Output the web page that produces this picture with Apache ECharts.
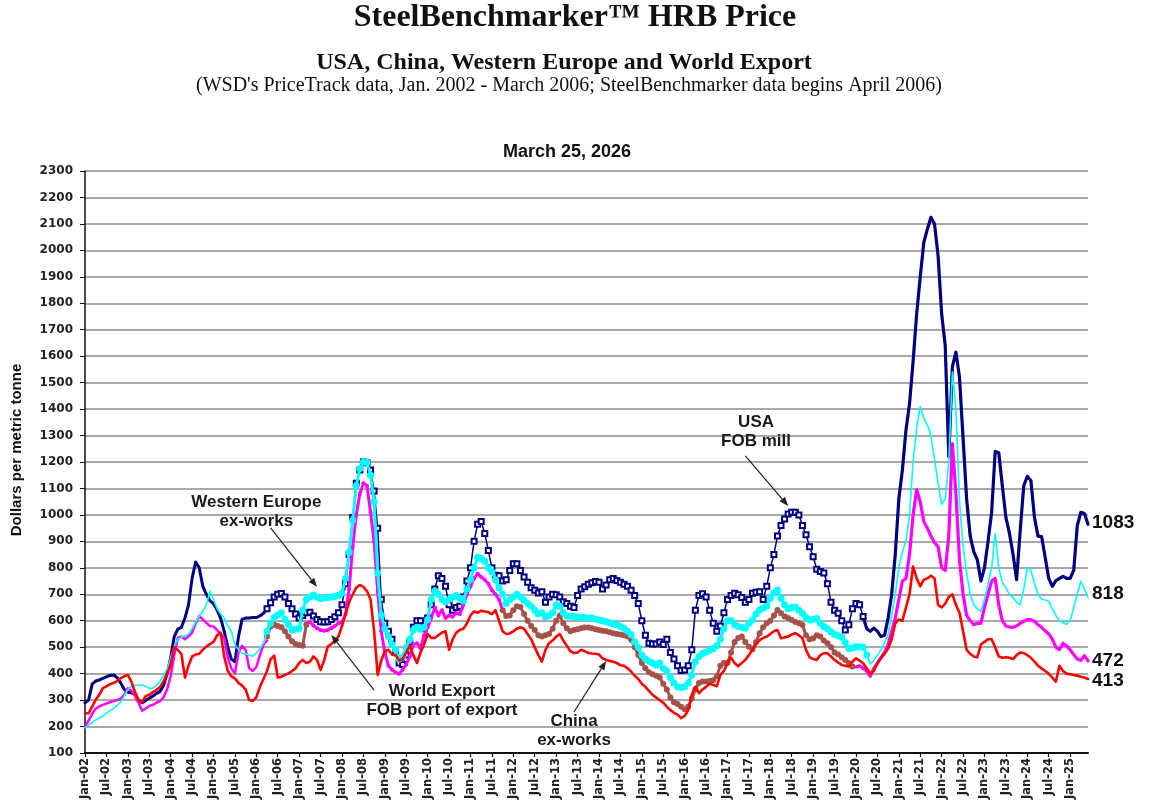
<!DOCTYPE html>
<html><head><meta charset="utf-8">
<script src="https://cdn.jsdelivr.net/npm/echarts@6/dist/echarts.min.js"></script>
<style>html,body{margin:0;padding:0;background:#fff}#chart{width:1155px;height:807px}</style>
</head><body><div id="chart"></div>
<script>
// ---------------- DATA ----------------
const monthNames = ['Jan','Feb','Mar','Apr','May','Jun','Jul','Aug','Sep','Oct','Nov','Dec'];
const START_YEAR = 2002;
const N_MONTHS = 282; // Jan-02 ... Jun-25 (monthly index 0..281)
const yTicks = {min: 100, max: 2300, step: 100};

// USA FOB mill (navy)
const usaEarlyStart = 0;
const usaEarly = [290,300,360,372,376,382,388,393,395,385,365,340,
  330,328,320,300,290,298,307,315,325,332,355,400,
  460,540,568,575,610,660,760,822,800,730,700,675,
  665,640,610,560,500,455,445,540,605,610,610,612,
  612,618,628,645];
const usaMidStart = 51;
const usaMid = [645,668,690,700,703,690,665,645,625,610,620,630,
  632,618,605,596,595,596,605,615,630,660,740,850,
  990,1120,1170,1200,1197,1170,1090,950,680,590,560,530,
  480,440,435,470,520,575,600,600,570,610,660,720,
  770,760,730,660,640,650,655,690,750,800,900,965,
  975,930,865,800,772,770,750,755,790,815,815,790,
  765,745,725,715,705,710,670,690,700,698,690,672,
  665,655,650,695,720,728,738,744,748,745,720,735,
  755,760,752,745,738,730,715,695,665,600,545,515,
  512,512,520,510,530,480,455,430,412,414,430,490,
  640,695,702,690,640,590,560,580,630,680,695,704,
  698,688,670,680,704,708,710,680,730,800,850,920,
  960,985,1003,1010,1010,1000,960,925,880,842,795,786,
  780,740,670,640,628,600,565,585,645,665,660,616];
const usaLateStart = 218;
const usaLate = [616,570,560,572,560,540,545,610,700,850,1060,1170,
  1320,1420,1580,1760,1900,2030,2080,2125,2100,1980,1760,1640,
  1220,1560,1615,1520,1290,1060,920,860,830,750,800,900,
  1010,1240,1235,1110,990,930,850,755,940,1110,1146,1130,
  990,920,918,840,760,730,752,760,768,760,760,790,
  960,1010,1005,965];

// Western Europe ex-works (cyan)
const weEarlyStart = 0;
const weEarly = [195,205,215,225,232,240,250,260,268,280,292,315,
  340,352,355,356,357,352,345,345,355,370,395,415,
  460,505,530,538,542,548,570,595,616,635,660,712,
  680,645,625,610,580,560,510,490,477,474,470,466,
  478,495,515,560];
const weMidStart = 51;
const weMid = [560,590,612,622,630,605,585,565,568,572,640,680,
  690,697,690,684,686,688,690,692,695,705,760,860,
  980,1110,1175,1200,1198,1150,1050,780,620,570,540,510,
  490,455,462,500,530,565,575,568,575,605,680,712,
  700,680,672,680,690,695,685,675,720,755,800,840,
  835,825,800,785,755,725,700,665,680,690,700,690,
  677,665,655,640,626,630,615,620,630,660,655,630,
  618,617,616,615,612,612,610,610,606,603,600,596,
  592,588,585,578,572,560,548,520,500,470,455,447,
  440,433,440,420,410,385,365,350,348,350,365,395,
  445,465,476,482,488,494,505,530,570,600,600,585,
  578,575,572,590,603,625,641,648,655,685,705,716,
  685,660,645,650,652,640,628,612,603,606,608,590,
  578,570,558,548,543,538,518,495,497,502,502,500,
  470];
const weLateStart = 219;
const weLate = [470,436,450,470,490,515,550,620,700,800,860,900,
  1000,1200,1330,1410,1365,1340,1300,1210,1120,1040,1060,1200,
  1540,1400,1050,880,780,700,660,645,635,680,740,800,
  930,800,745,725,700,688,670,660,720,800,790,742,
  700,681,678,674,645,620,600,592,587,600,650,700,
  749,720,688];

// World Export FOB port of export (magenta line / brown markers)
const wxEarlyStart = 0;
const wxEarly = [200,222,248,268,276,282,287,292,296,300,305,320,
  345,335,315,290,260,268,278,282,290,296,310,340,
  390,470,535,540,530,540,555,590,618,605,592,580,
  578,565,550,535,460,420,400,480,505,490,420,410,
  425,470,510,525];
const wxBrownAStart = 51;
const wxBrownA = [540,578,585,580,575,560,540,522,512,508,505,585];
const wxMidStart = 62;
const wxMid = [590,595,582,572,565,562,565,572,580,590,595,625,
  720,880,1000,1080,1120,1110,1010,900,710,560,480,430,
  415,405,400,415,435,465,510,515,495,545,575,610,
  650,620,640,610,620,615,630,625,660,700,730,760,
  778,765,755,740,715,700,680,640];
const wxBrownBStart = 117;
const wxBrownB = [640,618,620,640,655,652,625,600,580,565,545,540,
  545,550,570,600,620,590,572,560,565,568,572,574,
  574,572,568,565,562,560,556,553,550,548,545,540,
  528,500,470,440,420,405,398,392,385,362,340,310,
  292,285,275,265,275,305,340,365,370,370,372,375,
  390,430,440,440,480,520,535,540,520,502,492,520,
  553,575,590,600,620,641,628,616,610,603,595,590,
  584,545,530,534,545,540,525,515,500,480,472,462,
  452,440,427];
const wxLateStart = 215;
const wxLate = [427,425,430,420,410,390,420,440,460,480,510,560,
  610,680,750,760,850,1000,1095,1050,975,950,920,895,
  880,800,790,920,1270,1080,830,700,620,600,585,590,
  590,650,700,750,760,660,600,580,576,575,580,590,
  598,604,604,598,585,575,562,550,530,500,490,515,
  505,490,472,455,450,468,448];

// China ex-works (red)
const chinaStart = 0;
const china = [250,250,275,301,320,345,352,360,365,372,383,390,
  395,370,330,300,292,315,320,330,338,350,370,400,
  433,500,490,475,385,430,465,472,475,490,502,512,
  520,545,555,465,410,390,382,365,355,340,300,297,
  310,350,380,410,455,468,385,388,395,401,410,420,
  440,452,440,445,465,452,414,450,502,512,525,540,
  580,625,670,700,725,735,728,712,680,560,395,450,
  485,490,472,470,450,455,480,505,470,440,480,510,
  550,535,535,545,555,560,490,530,555,565,570,590,
  620,635,630,638,635,632,625,640,600,560,550,552,
  560,570,575,570,550,530,500,470,445,490,515,525,
  540,550,525,505,485,478,480,490,485,478,476,475,
  472,458,452,448,445,440,432,430,420,408,392,380,
  362,350,335,320,310,300,290,275,262,252,245,232,
  240,262,320,350,326,340,350,362,358,352,395,410,
  440,460,440,428,440,452,470,490,510,527,535,540,
  550,560,565,534,537,540,548,553,545,534,490,462,
  455,452,470,477,477,465,452,442,433,430,427,445,
  458,450,439,420,400,410,440,460,475,495,530,590,
  605,600,650,700,805,760,730,755,760,770,760,660,
  650,665,690,700,660,630,560,490,475,465,462,510,
  520,530,530,500,465,460,462,460,455,470,480,478,
  470,460,445,430,420,410,400,385,370,430,410,400,
  398,395,392,388,385,380];

// Text annotations anchored in data space: [month index, value]
const annotations = [
  {text: 'Western Europe\nex-works', at: [47.6, 1011]},
  {text: 'World Export\nFOB port of export', at: [100.3, 297]},
  {text: 'China\nex-works', at: [136.7, 183]},
  {text: 'USA\nFOB mill', at: [188.3, 1314]}
];
const arrows = [
  {from: [52, 951], to: [65, 728]},
  {from: [81, 338], to: [69, 546]},
  {from: [137, 255], to: [146, 448]},
  {from: [185, 1223], to: [197, 1034]}
];
const endLabels = [
  {text: '1083', value: 970},
  {text: '818', value: 701},
  {text: '472', value: 448},
  {text: '413', value: 372}
];

// ---------------- CHART ----------------
const categories = Array.from({length: N_MONTHS}, (_, i) =>
  monthNames[i % 12] + '-' + String(START_YEAR + Math.floor(i / 12)).slice(2));

function seg(values, start) {
  const a = new Array(N_MONTHS).fill(null);
  values.forEach((v, i) => { a[start + i] = v; });
  return a;
}
const NAVY = '#000080', CYAN = '#00FFFF', MAG = '#FF00FF', RED = '#FF0000', BROWN = '#A5524A';

function line(name, data, color, width, z) {
  return {name, type: 'line', data, z, silent: true, showSymbol: false, symbol: 'none',
    lineStyle: {color, width, join: 'round', cap: 'round'}, itemStyle: {color},
    connectNulls: false, animation: false};
}
function marked(name, data, color, width, symbol, size, z, borderWidth) {
  return {name, type: 'line', data, z, silent: true, showSymbol: true, showAllSymbol: true,
    symbol, symbolSize: size,
    lineStyle: {color, width, join: 'round'},
    itemStyle: {color, borderColor: color, borderWidth: borderWidth || 0},
    connectNulls: false, animation: false};
}

const series = [
  line('USA early', seg(usaEarly, usaEarlyStart), NAVY, 3, 2),
  marked('USA FOB mill', seg(usaMid, usaMidStart), NAVY, 1.5, 'emptyRect', 5, 2, 1.2),
  line('USA late', seg(usaLate, usaLateStart), NAVY, 3.2, 2),
  line('World Export early', seg(wxEarly, wxEarlyStart), MAG, 2.5, 3),
  marked('World Export mid', seg(wxMid, wxMidStart), MAG, 3, 'circle', 4, 3, 0),
  line('World Export late', seg(wxLate, wxLateStart), MAG, 3.2, 3),
  marked('World Export A', seg(wxBrownA, wxBrownAStart), BROWN, 3, 'circle', 6, 4, 0),
  marked('World Export B', seg(wxBrownB, wxBrownBStart), BROWN, 3, 'circle', 6, 4, 0),
  line('Western Europe early', seg(weEarly, weEarlyStart), CYAN, 1.6, 5),
  marked('Western Europe ex-works', seg(weMid, weMidStart), CYAN, 3, 'circle', 7, 5, 0),
  line('Western Europe late', seg(weLate, weLateStart), CYAN, 1.6, 5),
  line('China ex-works', seg(china, chinaStart), RED, 2.6, 6)
];

const chart = echarts.init(document.getElementById('chart'), null, {renderer: 'canvas'});
const option = {
  animation: false,
  backgroundColor: '#fff',
  grid: {left: 85, right: 67, top: 171, bottom: 54, containLabel: false},
  xAxis: {
    type: 'category', data: categories, boundaryGap: false,
    axisLine: {lineStyle: {color: '#111', width: 2}},
    axisTick: {show: true, interval: 5, length: 4, lineStyle: {color: '#111', width: 1.2}},
    axisLabel: {interval: 5, rotate: 90, margin: 5, color: '#222',
      fontFamily: 'DejaVu Sans', fontWeight: 'bold', fontSize: 11.5},
    splitLine: {show: false}
  },
  yAxis: {
    type: 'value', min: yTicks.min, max: yTicks.max, interval: yTicks.step,
    axisLine: {show: true, lineStyle: {color: '#111', width: 1.5}},
    axisTick: {show: true, length: 5, lineStyle: {color: '#111', width: 1}},
    axisLabel: {margin: 12, color: '#222', fontFamily: 'DejaVu Sans', fontWeight: 'bold', fontSize: 12,
      formatter: v => String(v)},
    splitLine: {show: true, lineStyle: {color: '#8c8c8c', width: 1.6}}
  },
  series
};
chart.setOption(option);

// ---------------- TEXT & ARROWS ----------------
const px = (m, v) => chart.convertToPixel({gridIndex: 0}, [m, v]);
const graphics = [];
function txt(text, x, y, font, align, extra) {
  graphics.push(Object.assign({type: 'text', x, y, silent: true, z: 100,
    style: {text, font, fill: '#111', align: align || 'center', verticalAlign: 'middle',
      textAlign: align || 'center', textVerticalAlign: 'middle'}}, extra || {}));
}
txt('SteelBenchmarker\u2122 HRB Price', 575, 18, 'bold 32px "Liberation Serif"');
txt('USA, China, Western Europe and World Export', 564, 63, 'bold 24px "Liberation Serif"');
txt("(WSD's PriceTrack data, Jan. 2002 - March 2006; SteelBenchmarker data begins April 2006)", 569, 86, '20px "Liberation Serif"');
txt('March 25, 2026', 567, 152, 'bold 18px "Liberation Sans"');
graphics.push({type: 'text', x: 17, y: 450, rotation: Math.PI / 2, silent: true, z: 100,
  style: {text: 'Dollars per metric tonne', font: 'bold 15px "Liberation Sans"', fill: '#111',
    align: 'center', verticalAlign: 'middle', textAlign: 'center', textVerticalAlign: 'middle'}});

annotations.forEach(a => {
  const p = px(a.at[0], a.at[1]);
  graphics.push({type: 'text', x: p[0], y: p[1], silent: true, z: 100,
    style: {text: a.text, font: 'bold 17px "Liberation Sans"', fill: '#1a1a1a', lineHeight: 19,
      align: 'center', verticalAlign: 'middle', textAlign: 'center', textVerticalAlign: 'middle'}});
});
arrows.forEach(a => {
  const p1 = px(a.from[0], a.from[1]);
  const p2 = px(a.to[0], a.to[1]);
  const dx = p2[0] - p1[0], dy = p2[1] - p1[1];
  const len = Math.hypot(dx, dy), ux = dx / len, uy = dy / len;
  const hl = 9, hw = 3.5;
  const bx = p2[0] - ux * hl, by = p2[1] - uy * hl;
  graphics.push({type: 'line', silent: true, z: 100,
    shape: {x1: p1[0], y1: p1[1], x2: bx, y2: by}, style: {stroke: '#222', lineWidth: 1.2}});
  graphics.push({type: 'polygon', silent: true, z: 100,
    shape: {points: [[p2[0], p2[1]], [bx - uy * hw, by + ux * hw], [bx + uy * hw, by - ux * hw]]},
    style: {fill: '#222'}});
});
endLabels.forEach(l => {
  const p = px(N_MONTHS - 1, l.value);
  graphics.push({type: 'text', x: p[0] + 4, y: p[1], silent: true, z: 100,
    style: {text: l.text, font: 'bold 19px "Liberation Sans"', fill: '#111',
      align: 'left', verticalAlign: 'middle', textAlign: 'left', textVerticalAlign: 'middle'}});
});
chart.setOption({graphic: graphics});
</script></body></html>
